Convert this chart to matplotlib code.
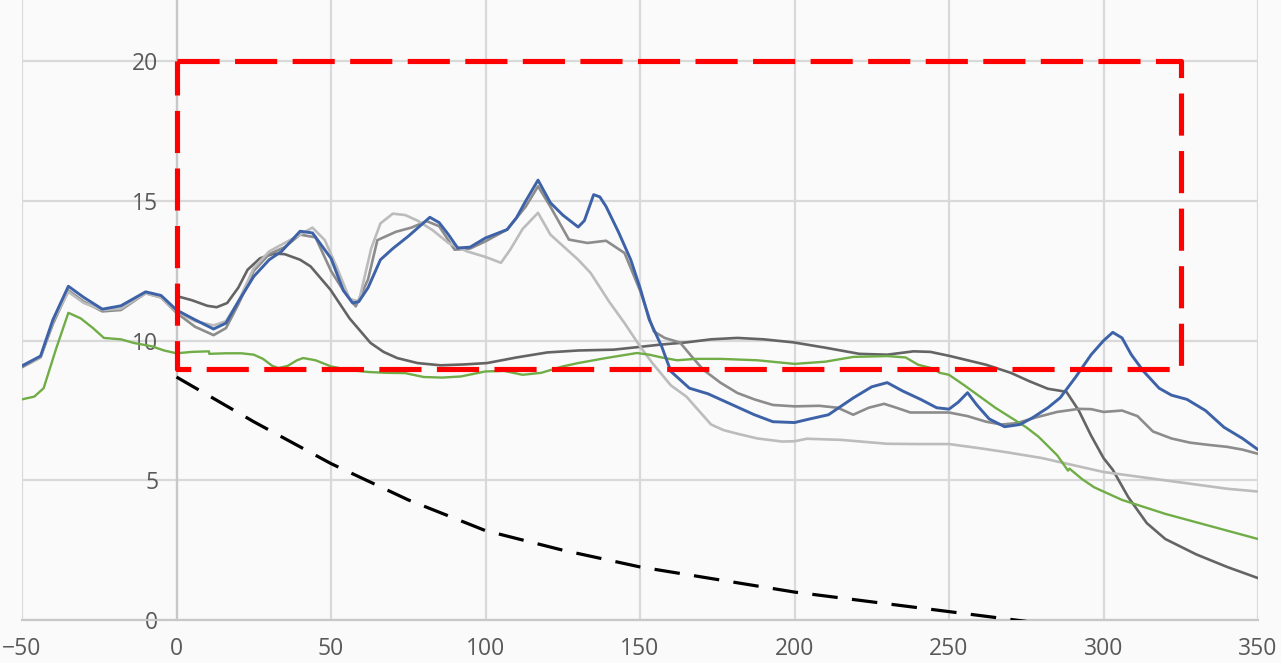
import matplotlib.pyplot as plt

# values
blue_x = [-50, -44, -40, -35, -30, -24, -18, -10, -5, 0, 6, 12, 16, 20, 25, 30, 34, 40, 44, 50,
          54, 57, 59, 62, 66, 70, 75, 82, 85, 88, 91, 95, 100, 107, 110, 113, 117, 121, 125, 130, 132,
          135, 137, 139, 143, 147, 150, 153, 157, 160, 166, 172, 181, 187, 193, 200, 205, 211, 219,
          225, 230, 235, 241, 246, 250, 253, 256, 259, 263, 268, 273, 277, 282, 286, 291, 296, 300,
          303, 306, 309, 313, 318, 322, 327, 333, 339, 345, 350]
blue_y = [9.1, 9.45, 10.75, 11.95, 11.55, 11.13, 11.25, 11.75, 11.62, 11.1, 10.75, 10.42, 10.63, 11.4,
          12.3, 12.9, 13.2, 13.92, 13.86, 12.95, 11.8, 11.35, 11.4, 11.9, 12.9, 13.3, 13.74, 14.42,
          14.23, 13.8, 13.32, 13.35, 13.68, 13.98, 14.4, 15.0, 15.75, 14.94, 14.5, 14.07, 14.3, 15.23,
          15.15, 14.81, 13.9, 12.9, 11.9, 10.75, 9.8, 8.9, 8.3, 8.1, 7.65, 7.35, 7.1, 7.07, 7.2, 7.35,
          7.95, 8.35, 8.5, 8.2, 7.89, 7.6, 7.55, 7.8, 8.14, 7.7, 7.2, 6.92, 7.0, 7.24, 7.6, 7.96, 8.7,
          9.5, 10.0, 10.3, 10.1, 9.5, 8.9, 8.3, 8.05, 7.9, 7.5, 6.9, 6.5, 6.1]

mid_x = [-50, -44, -40, -35, -30, -24, -18, -10, -5, 0, 6, 12, 16, 20, 25, 30, 35, 40, 45, 50,
         54, 58, 62, 65, 71, 76, 81, 85, 90, 95, 100, 107, 113, 117, 121, 127, 133, 139, 145, 150,
         154.5, 158, 163, 167, 170.5, 176, 181.5, 187, 193, 200, 208, 214, 219, 224, 229, 233, 237.5,
         244, 250, 256, 262, 267, 272, 278, 285, 292, 296, 300, 306, 311, 316, 322, 328, 334, 340,
         345, 350]
mid_y = [9.05, 9.4, 10.6, 11.8, 11.4, 11.05, 11.1, 11.7, 11.55, 11.0, 10.5, 10.2, 10.45, 11.3, 12.5,
         13.1, 13.35, 13.8, 13.7, 12.5, 11.8, 11.23, 12.2, 13.6, 13.9, 14.05, 14.28, 14.1, 13.26, 13.3,
         13.56, 13.98, 14.8, 15.53, 14.8, 13.62, 13.5, 13.58, 13.14, 11.8, 10.33, 10.1, 9.93, 9.4,
         8.96, 8.5, 8.13, 7.9, 7.7, 7.65, 7.67, 7.6, 7.35, 7.6, 7.74, 7.6, 7.43, 7.43, 7.43, 7.3, 7.1,
         7.0, 7.05, 7.25, 7.45, 7.56, 7.55, 7.45, 7.5, 7.3, 6.75, 6.5, 6.35, 6.27, 6.2, 6.1, 5.95]

light_x = [-50, -44, -40, -35, -30, -24, -18, -10, -5, 0, 6, 12, 16, 20, 25, 30, 35, 40, 44, 48,
           52, 56, 59, 63, 66, 70, 74, 78, 83, 88, 94, 100, 105, 108, 112, 117, 121, 126, 130, 134,
           140, 145, 150, 154, 160, 165, 169, 173, 177, 181.5, 188, 196, 200, 204, 215, 230, 240, 250,
           260, 269, 280, 290, 300, 310, 320, 330, 340, 350]
light_y = [9.1, 9.4, 10.7, 11.75, 11.35, 11.1, 11.15, 11.7, 11.55, 11.05, 10.7, 10.55, 10.7, 11.4,
           12.6, 13.2, 13.5, 13.8, 14.05, 13.6, 12.6, 11.5, 11.4, 13.3, 14.2, 14.55, 14.5, 14.3, 13.95,
           13.5, 13.2, 13.0, 12.79, 13.26, 14.0, 14.58, 13.8, 13.3, 12.9, 12.43, 11.4, 10.63, 9.8, 9.2,
           8.4, 8.0, 7.5, 7.0, 6.8, 6.67, 6.5, 6.39, 6.4, 6.49, 6.45, 6.31, 6.3, 6.3, 6.15, 6.0, 5.8,
           5.55, 5.3, 5.15, 5.0, 4.85, 4.7, 4.6]

dark_x = [0, 5, 10, 13, 16.4, 20, 23, 27, 31.5, 35, 40, 43.4, 49.8, 56, 62.8, 67, 71.4, 78, 85.4,
          93, 100.5, 110, 120, 130, 141.5, 150, 156.6, 165, 173, 181.5, 190, 199.7, 210, 221, 230,
          238.5, 244, 250, 256, 262, 270, 276, 282, 288, 292, 296, 300, 303, 308, 314, 320, 330, 340,
          350]
dark_y = [11.6, 11.45, 11.25, 11.2, 11.35, 11.9, 12.54, 12.95, 13.12, 13.1, 12.9, 12.66, 11.83, 10.8,
          9.92, 9.6, 9.38, 9.2, 9.12, 9.15, 9.2, 9.4, 9.58, 9.65, 9.68, 9.78, 9.86, 9.94, 10.05, 10.1,
          10.05, 9.94, 9.75, 9.53, 9.5, 9.62, 9.6, 9.46, 9.3, 9.14, 8.85, 8.55, 8.28, 8.17, 7.5, 6.6,
          5.8, 5.38, 4.4, 3.47, 2.9, 2.35, 1.9, 1.5]

green_x = [-50, -46, -43, -39, -35, -31, -27, -23.5, -18, -13.8, -8, -4, 0, 5, 10.5, 10.6, 16, 21,
           25, 28, 31, 33, 36, 39, 41, 45, 50, 56, 62, 68, 74, 80, 86, 92, 100, 106, 112, 118, 125,
           130, 139, 149, 153, 157, 162, 168, 176, 188, 200, 210, 219, 230, 236, 240, 245, 247, 250,
           255, 260, 265, 270, 275, 279, 280, 285, 288.5, 289, 293, 297, 300, 306, 313, 320, 330, 340,
           350]
green_y = [7.9, 8.0, 8.3, 9.7, 11.0, 10.8, 10.45, 10.1, 10.05, 9.92, 9.8, 9.65, 9.55, 9.6, 9.62, 9.53,
           9.55, 9.55, 9.5, 9.35, 9.1, 9.02, 9.1, 9.3, 9.38, 9.3, 9.08, 8.95, 8.88, 8.85, 8.84, 8.7,
           8.68, 8.72, 8.9, 8.92, 8.78, 8.85, 9.08, 9.2, 9.38, 9.56, 9.5, 9.4, 9.3, 9.35, 9.35, 9.3,
           9.17, 9.25, 9.42, 9.45, 9.4, 9.14, 9.0, 8.85, 8.78, 8.4, 8.0, 7.6, 7.25, 6.9, 6.56, 6.45,
           5.9, 5.35, 5.42, 5.05, 4.75, 4.6, 4.3, 4.05, 3.8, 3.5, 3.2, 2.9]

limit_x = [0, 25, 50, 75, 100, 125, 150, 175, 200, 225, 250, 275]
limit_y = [8.7, 7.1, 5.6, 4.3, 3.2, 2.5, 1.9, 1.45, 1.0, 0.65, 0.3, -0.05]

box_x = [0, 325, 325, 0, 0]
box_y = [20, 20, 9, 9, 20]

x_ticks = [-50, 0, 50, 100, 150, 200, 250, 300, 350]
y_ticks = [0, 5, 10, 15, 20]

plt.rcParams["font.family"] = ["Open Sans", "DejaVu Sans"]

fig = plt.figure(figsize=(12.81, 6.63), dpi=100, facecolor="#fafafa")
ax = fig.add_axes([22 / 1281, 43 / 663, 1236 / 1281, 620 / 663])
ax.set_facecolor("#fafafa")

grid_col = "#d9d9d9"
ax.set_xlim(-50, 350)
ax.set_ylim(0, 22.2)
ax.set_xticks(x_ticks)
ax.set_yticks(y_ticks)
ax.grid(True, color=grid_col, linewidth=1.6, zorder=0)
ax.set_axisbelow(True)

for side in ["top", "right"]:
    ax.spines[side].set_visible(False)
ax.spines["left"].set_position(("data", 0))
ax.spines["left"].set_color("#c8c8c8")
ax.spines["left"].set_linewidth(1.6)
ax.spines["bottom"].set_color("#c8c8c8")
ax.spines["bottom"].set_linewidth(1.6)
ax.tick_params(axis="both", length=0, labelsize=16.5, labelcolor="#595959")
ax.tick_params(axis="y", pad=13)
ax.tick_params(axis="x", pad=12)

line_kw = dict(solid_joinstyle="round", solid_capstyle="round")
ax.plot(dark_x, dark_y, color="#646464", linewidth=1.9, zorder=3, **line_kw)
ax.plot(mid_x, mid_y, color="#8c8c8c", linewidth=1.9, zorder=3, **line_kw)
ax.plot(light_x, light_y, color="#bcbcbc", linewidth=1.9, zorder=3, **line_kw)
ax.plot(green_x, green_y, color="#70ad47", linewidth=1.7, zorder=4, **line_kw)
ax.plot(blue_x, blue_y, color="#3d62a8", linewidth=2.1, zorder=5, **line_kw)

ax.plot(limit_x, limit_y, color="black", linewidth=2.3, dashes=(8, 4.5),
        dash_capstyle="butt", zorder=6)
ax.plot(box_x, box_y, color="#ff0000", linewidth=3.7, dashes=(8.2, 3.0),
        dash_capstyle="butt", solid_joinstyle="miter", zorder=7)

fig.savefig("out.png", dpi=100, facecolor=fig.get_facecolor())
